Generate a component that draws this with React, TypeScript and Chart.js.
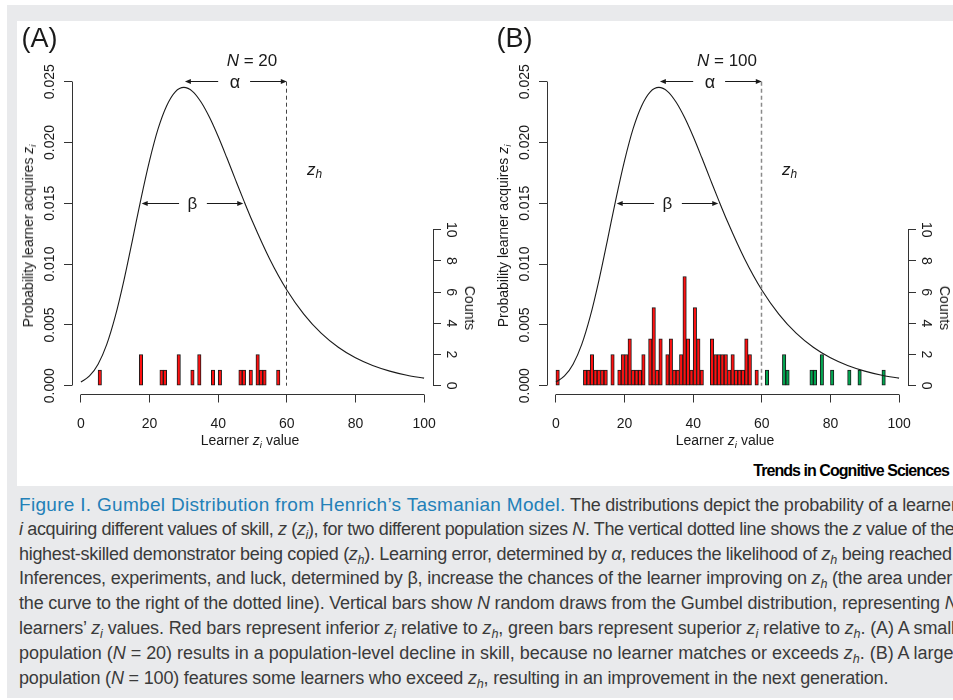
import React, { useEffect, useRef } from 'react';
import { Chart, registerables } from 'chart.js';

Chart.register(...registerables);

// ---------------- data ----------------
// Gumbel density curve (x = learner z value, y = probability)
const CURVE_X = [0, 2.5, 5, 7.5, 10, 12.5, 15, 17.5, 20, 22.5, 25, 27.5, 30, 32.5, 35, 37.5, 40, 42.5, 45, 47.5, 50, 55, 60, 65, 70, 75, 80, 85, 90, 95, 100];
const CURVE_Y = [0.0003, 0.0008, 0.00177, 0.00338, 0.0057, 0.00863, 0.01196, 0.01537, 0.01851, 0.02114, 0.02303, 0.02417, 0.02453, 0.02421, 0.02333, 0.02205, 0.02049, 0.01876, 0.01697, 0.0152, 0.0135, 0.01042, 0.00787, 0.00587, 0.00432, 0.00316, 0.00229, 0.00166, 0.0012, 0.00086, 0.00062];

// Panel A (N = 20): histogram bin start and count
const BINS_A = [5, 17, 23, 24, 28, 32, 34, 38, 40, 46, 47, 49, 51, 52, 53, 57];
const COUNTS_A = [1, 2, 1, 1, 2, 1, 2, 1, 1, 1, 1, 1, 2, 1, 1, 1];

// Panel B (N = 100)
const BINS_B = [0, 8, 9, 10, 11, 12, 13, 14, 16, 18, 19, 20, 21, 22, 23, 24, 25, 27, 28, 29, 30, 32, 33, 34, 35, 36, 37, 38, 39, 40, 41, 42, 45, 46, 47, 48, 49, 50, 51, 52, 53, 54, 55, 56, 58, 61, 66, 67, 74, 75, 77, 80, 85, 88, 95];
const COUNTS_B = [1, 1, 1, 2, 1, 1, 1, 1, 2, 1, 2, 2, 3, 1, 1, 1, 2, 3, 5, 1, 3, 2, 3, 1, 1, 2, 7, 3, 1, 5, 3, 1, 3, 2, 2, 2, 2, 1, 2, 1, 1, 1, 3, 2, 1, 1, 2, 1, 1, 1, 2, 1, 1, 1, 1];

const X_TICKS = [0, 20, 40, 60, 80, 100];
const Y_TICKS = [0, 0.005, 0.01, 0.015, 0.02, 0.025];
const COUNT_TICKS = [0, 2, 4, 6, 8, 10];

const Z_H = 60;
const ALPHA_Y = 0.025;
const ALPHA_ARROW = [30.3, 60];
const ALPHA_GAP = [40, 49.3];
const BETA_Y = 0.015;
const BETA_ARROW = [17.7, 47.3];
const BETA_GAP = [28.6, 36.7];

// ---------------- styles ----------------
const FONT = "'Liberation Sans', Arial, Helvetica, sans-serif";
const RED = '#ff1010';
const GREEN = '#00a650';
const INK = '#1a1a1a';
const GRAY_BG = '#e9eaec';
const BLUE = '#2380b8';

const annotPlugin = {
  id: 'annot',
  afterDatasetsDraw(chart: any, _args: any, opts: any) {
    const { ctx, chartArea } = chart;
    const xs = chart.scales.x;
    const ys = chart.scales.y;
    const yc = chart.scales.yc;
    const px = (v: number) => xs.getPixelForValue(v);
    const py = (v: number) => ys.getPixelForValue(v);
    const al = (v: number) => Math.round(v - 0.5) + 0.5;
    ctx.save();
    // axis lines spanning only the labelled range (R style)
    ctx.strokeStyle = opts.axisColor;
    ctx.lineWidth = 1;
    ctx.beginPath();
    const bY = al(chartArea.bottom);
    ctx.moveTo(al(px(X_TICKS[0])), bY);
    ctx.lineTo(al(px(X_TICKS[X_TICKS.length - 1])), bY);
    const lX = al(chartArea.left);
    ctx.moveTo(lX, al(py(Y_TICKS[0])));
    ctx.lineTo(lX, al(py(Y_TICKS[Y_TICKS.length - 1])));
    const rX = al(chartArea.right);
    ctx.moveTo(rX, al(yc.getPixelForValue(COUNT_TICKS[0])));
    ctx.lineTo(rX, al(yc.getPixelForValue(COUNT_TICKS[COUNT_TICKS.length - 1])));
    ctx.stroke();

    // dashed z_h line
    ctx.strokeStyle = opts.dashColor;
    ctx.lineWidth = opts.dashWidth;
    ctx.setLineDash([4, 3]);
    ctx.beginPath();
    const zx = al(px(Z_H));
    ctx.moveTo(zx, py(ALPHA_Y));
    ctx.lineTo(zx, py(0));
    ctx.stroke();
    ctx.setLineDash([]);

    // alpha / beta double arrows
    const arrow = (range: number[], gap: number[], yv: number) => {
      const y = al(py(yv));
      const x1 = px(range[0]);
      const x2 = px(range[1]);
      ctx.strokeStyle = INK;
      ctx.fillStyle = INK;
      ctx.lineWidth = 1;
      ctx.beginPath();
      ctx.moveTo(x1 + 4, y);
      ctx.lineTo(px(gap[0]), y);
      ctx.moveTo(px(gap[1]), y);
      ctx.lineTo(x2 - 4, y);
      ctx.stroke();
      ctx.beginPath();
      ctx.moveTo(x1, y);
      ctx.lineTo(x1 + 6, y - 2.5);
      ctx.lineTo(x1 + 6, y + 2.5);
      ctx.closePath();
      ctx.fill();
      ctx.beginPath();
      ctx.moveTo(x2, y);
      ctx.lineTo(x2 - 6, y - 2.5);
      ctx.lineTo(x2 - 6, y + 2.5);
      ctx.closePath();
      ctx.fill();
    };
    arrow(ALPHA_ARROW, ALPHA_GAP, ALPHA_Y);
    arrow(BETA_ARROW, BETA_GAP, BETA_Y);
    ctx.restore();
  },
};

function makeChart(canvas: HTMLCanvasElement, bins: number[], counts: number[], dashColor: string, dashWidth: number) {
  const barData = bins.map((b, i) => ({ x: b + 0.5, y: counts[i] }));
  const curve = CURVE_X.map((x, i) => ({ x, y: CURVE_Y[i] }));
  const tickFont = { family: FONT, size: 14 };
  const grid = {
    display: true,
    drawOnChartArea: false,
    drawTicks: true,
    tickLength: 8,
    color: '#333',
    lineWidth: 1,
    offset: false,
  };
  return new Chart(canvas, {
    type: 'bar',
    data: {
      datasets: [
        {
          type: 'line',
          data: curve,
          xAxisID: 'x',
          yAxisID: 'y',
          borderColor: INK,
          borderWidth: 1.1,
          pointRadius: 0,
          fill: false,
          cubicInterpolationMode: 'monotone',
          order: 0,
        } as any,
        {
          type: 'bar',
          data: barData,
          xAxisID: 'x',
          yAxisID: 'yc',
          backgroundColor: (c: any) => (c.raw && c.raw.x >= Z_H ? GREEN : RED),
          borderColor: INK,
          borderWidth: 1,
          borderSkipped: false,
          barPercentage: 1,
          categoryPercentage: 1,
          order: 1,
        } as any,
      ],
    },
    options: {
      animation: false,
      responsive: false,
      events: [],
      layout: { padding: { top: 50, left: 0, right: 0, bottom: 0 }, autoPadding: false },
      plugins: {
        legend: { display: false },
        tooltip: { enabled: false },
        title: { display: false },
        annot: { axisColor: '#333', dashColor, dashWidth },
      } as any,
      scales: {
        x: {
          type: 'linear',
          position: 'bottom',
          min: -2.6,
          max: 102.6,
          offset: false,
          afterBuildTicks: (s: any) => {
            s.ticks = X_TICKS.map((v) => ({ value: v }));
          },
          afterFit: (s: any) => {
            s.height = 66.5;
          },
          grid,
          border: { display: false },
          ticks: { font: tickFont, color: INK, padding: 13, minRotation: 0, maxRotation: 0, autoSkip: false, callback: (v: any) => String(v) },
        },
        y: {
          type: 'linear',
          position: 'left',
          min: -0.000724,
          max: 0.02588,
          afterBuildTicks: (s: any) => {
            s.ticks = Y_TICKS.map((v) => ({ value: v }));
          },
          afterFit: (s: any) => {
            s.width = 55;
          },
          grid,
          border: { display: false },
          ticks: { font: tickFont, color: INK, padding: -4, minRotation: 90, maxRotation: 90, crossAlign: 'center', autoSkip: false, callback: (v: any) => Number(v).toFixed(3) },
        },
        yc: {
          type: 'linear',
          position: 'right',
          min: -0.564,
          max: 20.17,
          afterBuildTicks: (s: any) => {
            s.ticks = COUNT_TICKS.map((v) => ({ value: v }));
          },
          afterFit: (s: any) => {
            s.width = 42;
          },
          grid,
          border: { display: false },
          ticks: { font: tickFont, color: INK, padding: 2, minRotation: -90, maxRotation: -90, crossAlign: 'center', autoSkip: false, callback: (v: any) => String(v) },
        },
      } as any,
    },
    plugins: [annotPlugin as any],
  });
}

function ChartCanvas({ left, bins, counts, dashColor, dashWidth }: any) {
  const ref = useRef<HTMLCanvasElement | null>(null);
  useEffect(() => {
    const chart = makeChart(ref.current as HTMLCanvasElement, bins, counts, dashColor, dashWidth);
    return () => chart.destroy();
  }, []);
  return (
    <canvas
      ref={ref}
      width={458}
      height={440}
      style={{ position: 'absolute', left, top: 21, width: 458, height: 440 }}
    />
  );
}

function T({ x, y, size, rotate, children, anchor }: any) {
  const tx = anchor === 'left' ? '0' : '-50%';
  return (
    <div
      style={{
        position: 'absolute',
        left: x,
        top: y,
        transform: `translate(${tx}, -50%)${rotate ? ` rotate(${rotate}deg)` : ''}`,
        fontFamily: FONT,
        fontSize: size,
        lineHeight: 1,
        whiteSpace: 'nowrap',
        color: INK,
      }}
    >
      {children}
    </div>
  );
}

const subStyle: any = { fontSize: '0.7em', verticalAlign: '-0.3em', lineHeight: 0 };
const Zs = ({ s }: any) => (
  <>
    <i>z</i>
    <sub style={subStyle}>
      <i>{s}</i>
    </sub>
  </>
);

function PanelText({ dx, label, n }: any) {
  return (
    <>
      <T x={dx + 39.5} y={37.5} size={27}>{label}</T>
      <T x={dx + 252} y={60} size={17}>
        <i>N</i> = {n}
      </T>
      <T x={dx + 235} y={82} size={18}>α</T>
      <T x={dx + 192.5} y={203} size={17}>β</T>
      <T x={dx + 307} y={168.5} size={17} anchor="left">
        <Zs s="h" />
      </T>
      <T x={dx + 250} y={440} size={14}>
        Learner <Zs s="i" /> value
      </T>
      <T x={dx + 28.3} y={236} size={14} rotate={-90}>
        Probability learner acquires <Zs s="i" />
      </T>
      <T x={dx + 470} y={308} size={14} rotate={90}>
        Counts
      </T>
    </>
  );
}

const CAPTION_TOP = [494.8, 519.7, 544.5, 569.4, 594.2, 619.1, 644.0, 668.8];
const CAPTION_SPACING = [-0.22, -0.38, -0.31, -0.2, -0.18, -0.12, -0.03, -0.18];

export default function App() {
  const capLines = [
    <>
      <span style={{ color: BLUE, fontSize: 19, letterSpacing: '0.3px' }}>Figure I. Gumbel Distribution from Henrich’s Tasmanian Model.</span> The distributions depict the probability of a learner
    </>,
    <>
      <i>i</i> acquiring different values of skill, <i>z</i> (<Zs s="i" />), for two different population sizes <i>N</i>. The vertical dotted line shows the <i>z</i> value of the
    </>,
    <>
      highest-skilled demonstrator being copied (<Zs s="h" />). Learning error, determined by <i>α</i>, reduces the likelihood of <Zs s="h" /> being reached.
    </>,
    <>
      Inferences, experiments, and luck, determined by β, increase the chances of the learner improving on <Zs s="h" /> (the area under
    </>,
    <>
      the curve to the right of the dotted line). Vertical bars show <i>N</i> random draws from the Gumbel distribution, representing <i>N</i>
    </>,
    <>
      learners’ <Zs s="i" /> values. Red bars represent inferior <Zs s="i" /> relative to <Zs s="h" />, green bars represent superior <Zs s="i" /> relative to <Zs s="h" />. (A) A small
    </>,
    <>
      population (<i>N</i> = 20) results in a population-level decline in skill, because no learner matches or exceeds <Zs s="h" />. (B) A larger
    </>,
    <>
      population (<i>N</i> = 100) features some learners who exceed <Zs s="h" />, resulting in an improvement in the next generation.
    </>,
  ];
  return (
    <div style={{ position: 'absolute', left: 0, top: 0, width: 953, height: 700, overflow: 'hidden', background: '#fff' }}>
      <div style={{ position: 'absolute', left: 7, top: 5, width: 946, height: 693, background: GRAY_BG }} />
      <div style={{ position: 'absolute', left: 17, top: 21, width: 936, height: 465, background: '#fff' }} />
      <ChartCanvas left={17} bins={BINS_A} counts={COUNTS_A} dashColor="#444" dashWidth={1} />
      <ChartCanvas left={492} bins={BINS_B} counts={COUNTS_B} dashColor="#8a8a8a" dashWidth={1.5} />
      <PanelText dx={0} label="(A)" n={20} />
      <PanelText dx={475} label="(B)" n={100} />
      <div
        style={{
          position: 'absolute',
          right: 4,
          top: 471,
          transform: 'translateY(-50%)',
          fontFamily: FONT,
          fontWeight: 'bold',
          fontSize: 16,
          letterSpacing: '-0.95px',
          lineHeight: 1,
          whiteSpace: 'nowrap',
          color: '#000',
        }}
      >
        Trends in Cognitive Sciences
      </div>
      {capLines.map((ln, i) => (
        <div
          key={i}
          style={{
            position: 'absolute',
            left: 19,
            top: CAPTION_TOP[i],
            fontFamily: FONT,
            fontSize: 18,
            letterSpacing: `${CAPTION_SPACING[i]}px`,
            lineHeight: 1,
            whiteSpace: 'nowrap',
            color: '#3a3a3a',
          }}
        >
          {ln}
        </div>
      ))}
    </div>
  );
}
